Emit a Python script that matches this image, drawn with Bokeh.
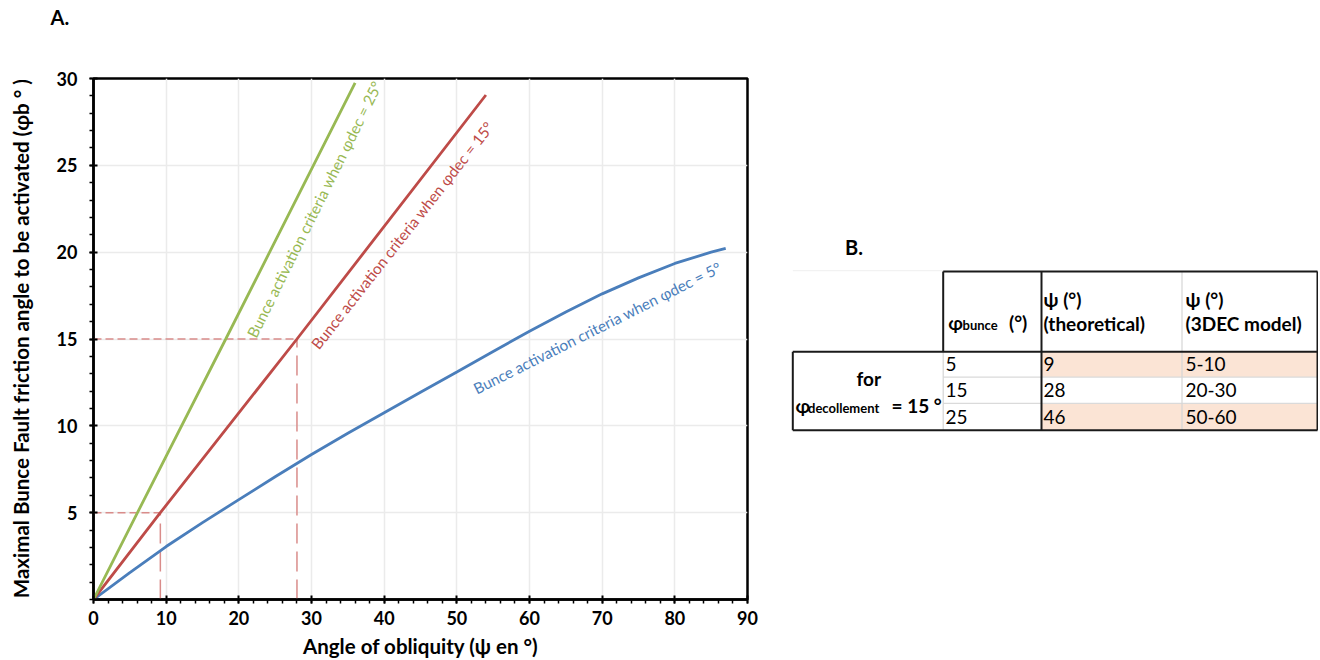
from bokeh.plotting import figure
from bokeh.models import Range1d, FixedTicker, Title
from bokeh.layouts import row
from bokeh.embed import file_html
from bokeh.resources import INLINE
from bokeh.core.properties import value

# ---------------- data ----------------
psi_dec5 = [0, 5, 10, 15, 20, 25, 30, 35, 40, 45, 50, 55, 60, 65, 70, 75, 80, 85, 87]
phib_dec5 = [0, 1.55, 3.05, 4.43, 5.75, 7.07, 8.35, 9.57, 10.75, 11.93, 13.1, 14.28,
             15.45, 16.55, 17.6, 18.52, 19.35, 20.0, 20.22]
psi_dec15 = [0, 9.2, 28, 54]
phib_dec15 = [0, 5, 15, 29.05]
psi_dec25 = [0, 6.05, 18.2, 36]
phib_dec25 = [0, 5, 15, 29.75]
ref_psi = [9.2, 28]
ref_phib = [5, 15]
x_ticks = [0, 10, 20, 30, 40, 50, 60, 70, 80, 90]
x_minor = list(range(0, 91, 2))
y_ticks = [5, 10, 15, 20, 25, 30]
y_minor = list(range(0, 31))
curve_labels = ["Bunce activation criteria when \u03c6dec = 5\u00b0",
                "Bunce activation criteria when \u03c6dec = 15\u00b0",
                "Bunce activation criteria when \u03c6dec = 25\u00b0"]
label_x = [52.4, 30.4, 21.7]
label_y = [12.1, 14.55, 15.15]

# table data
phi_bunce = ["5", "15", "25"]
psi_theoretical = ["9", "28", "46"]
psi_3dec = ["5-10", "20-30", "50-60"]

FONT = "Lato"
BLUE, RED, GREEN = "#4A7EBB", "#BE4B48", "#98B954"
DASH = "#D98C8A"

# frame placement (pixels)
CW, CH = 772, 660
BL, BT, BB = 93, 78, 61
FT = BT + 1
FB = CH - BB

# ---------------- chart A ----------------
p = figure(width=CW, height=CH, x_range=Range1d(0, 90), y_range=Range1d(0, 30),
           output_backend="svg", toolbar_location=None,
           min_border_left=BL, min_border_right=CW - BL - 654, min_border_top=BT, min_border_bottom=BB)
# the two empty lines only reserve room so that "A." sits near the top of the page
p.title = Title(text="A.\n\n", align="left", vertical_align="top", offset=50 - BL, standoff=0,
                text_font=FONT, text_font_size="20px", text_font_style="bold", text_color="black")
p.background_fill_color = "white"
p.border_fill_color = "white"
p.outline_line_color = "black"
p.outline_line_width = 2.5

p.xaxis.ticker = FixedTicker(ticks=x_ticks, minor_ticks=x_minor)
p.yaxis.ticker = FixedTicker(ticks=y_ticks, minor_ticks=y_minor)
for ax in (p.xaxis, p.yaxis):
    ax.axis_line_color = "black"
    ax.axis_line_width = 2.5
    ax.major_tick_line_color = "black"
    ax.major_tick_line_width = 2
    ax.major_tick_in = 4
    ax.major_tick_out = 4
    ax.minor_tick_line_color = "black"
    ax.minor_tick_line_width = 1.5
    ax.minor_tick_in = 0
    ax.minor_tick_out = 4
    ax.major_label_text_font = FONT
    ax.major_label_text_font_size = "18px"
    ax.major_label_text_font_style = "bold"
    ax.major_label_text_color = "black"
    ax.axis_label_text_font = FONT
    ax.axis_label_text_font_size = "20.5px"
    ax.axis_label_text_font_style = "bold"
    ax.axis_label_text_color = "black"
p.xaxis.axis_label = "Angle of obliquity (\u03c8 en \u00b0)"
p.yaxis.axis_label = "Maximal Bunce Fault friction angle to be activated (\u03c6b \u00b0 )"
p.xaxis.major_label_standoff = 7
p.xaxis.axis_label_standoff = 6
p.yaxis.major_label_standoff = 12
p.yaxis.axis_label_standoff = 21

p.xgrid.grid_line_color = "#EBEBEB"
p.ygrid.grid_line_color = "#EBEBEB"
p.xgrid.grid_line_width = 1.5
p.ygrid.grid_line_width = 1.5

# reference dashed lines
p.segment(x0=[0] * len(ref_psi), y0=ref_phib, x1=ref_psi, y1=ref_phib,
          line_color=DASH, line_width=1.5, line_dash="8 4")
p.segment(x0=ref_psi, y0=[0] * len(ref_psi), x1=ref_psi, y1=ref_phib,
          line_color=DASH, line_width=1.5, line_dash="20 8")

p.line(psi_dec5, phib_dec5, line_color=BLUE, line_width=2.8)
p.line(psi_dec15, phib_dec15, line_color=RED, line_width=2.8)
p.line(psi_dec25, phib_dec25, line_color=GREEN, line_width=2.8)

angles = [26.6, 51.8, 63.6]
colors = [BLUE, RED, GREEN]
for i in range(3):
    p.text(x=[label_x[i]], y=[label_y[i]], text=[curve_labels[i]], angle=angles[i], angle_units="deg",
           text_color=colors[i], text_font=value(FONT), text_font_size="15.3px",
           text_align="left", text_baseline="alphabetic")

# ---------------- table B (x: pixels from the table's left edge, y: page pixels) ----------------
TW = 546
t = figure(width=TW, height=CH, x_range=Range1d(0, TW), y_range=Range1d(FB, FT),
           output_backend="svg", toolbar_location=None, min_border=0,
           x_axis_type=None, y_axis_type=None)
t.grid.visible = False
t.outline_line_color = None
t.background_fill_color = "white"
t.border_fill_color = "white"

bL, c1, c2, c3, R = 20.3, 170.7, 269.0, 409.5, 545.0
hT, hB = 271.7, 351.7
row_edges = [351.7, 377.0, 403.3, 430.0]

shade_rows = [0, 2]
t.quad(left=[c2] * 2, right=[R] * 2,
       top=[row_edges[i] for i in shade_rows], bottom=[row_edges[i + 1] for i in shade_rows],
       fill_color="#FBE4D5", line_color=None)

t.segment(x0=[c1, c1], y0=row_edges[1:3], x1=[R, R], y1=row_edges[1:3], line_color="#DADADA", line_width=1.2)
t.segment(x0=[c3, c1, bL], y0=[hT, hB, 270.7], x1=[c3, c1, c1], y1=[row_edges[3], row_edges[3], 270.7],
          line_color=["#D5D5D5", "#D5D5D5", "#F2F2F2"], line_width=1.2)
t.segment(x0=[c1, c1, c2, R, bL, bL, bL],
          y0=[hT, hT, hT, hT, hB, hB, row_edges[3]],
          x1=[R, c1, c2, R, R, bL, R],
          y1=[hT, hB, row_edges[3], row_edges[3], hB, row_edges[3], row_edges[3]],
          line_color="#1A1A1A", line_width=2)

t.text(x=[81.5], y=[246.7], text=["B."], text_font=value(FONT), text_font_size="20px",
       text_font_style="bold", text_align="center", text_baseline="middle", text_color="black")

# header texts
t.text(x=[175.7], y=[323], text=["\u03c6"], text_font=value(FONT), text_font_size="19px",
       text_font_style="bold", text_baseline="alphabetic", text_color="black")
t.text(x=[190], y=[325], text=["bunce"], text_font=value(FONT), text_font_size="13px",
       text_font_style="bold", text_baseline="alphabetic", text_color="black")
t.text(x=[236.5], y=[323], text=["(\u00b0)"], text_font=value(FONT), text_font_size="19px",
       text_font_style="bold", text_baseline="alphabetic", text_color="black")
t.text(x=[271, 271, 413, 413], y=[300, 323.3, 300, 323.3],
       text=["\u03c8 (\u00b0)", "(theoretical)", "\u03c8 (\u00b0)", "(3DEC model)"],
       text_font=value(FONT), text_font_size="19px", text_font_style="bold",
       text_baseline="middle", text_align="left", text_color="black")

# data rows
row_mid = [(row_edges[i] + row_edges[i + 1]) / 2 for i in range(3)]
for xc, col in ((173, phi_bunce), (271, psi_theoretical), (413, psi_3dec)):
    t.text(x=[xc] * 3, y=row_mid, text=col, text_font=value(FONT), text_font_size="19px",
           text_baseline="middle", text_align="left", text_color="black")

# left block
t.text(x=[96.3], y=[378.3], text=["for"], text_font=value(FONT), text_font_size="19px",
       text_font_style="bold", text_align="center", text_baseline="middle", text_color="black")
t.text(x=[23], y=[405], text=["\u03c6"], text_font=value(FONT), text_font_size="19px",
       text_font_style="bold", text_baseline="alphabetic", text_color="black")
t.text(x=[35.5], y=[407.5], text=["decollement"], text_font=value(FONT), text_font_size="13px",
       text_font_style="bold", text_baseline="alphabetic", text_color="black")
t.text(x=[119], y=[405], text=["= 15 \u00b0"], text_font=value(FONT), text_font_size="19px",
       text_font_style="bold", text_baseline="alphabetic", text_color="black")

layout = row(p, t, spacing=0)
open("out.html", "w").write(file_html(layout, INLINE))
